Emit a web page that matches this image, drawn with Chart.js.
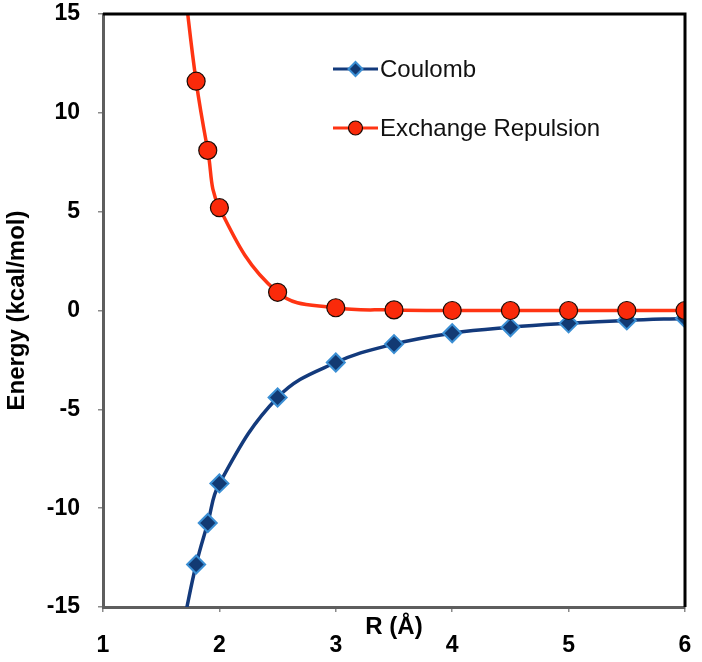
<!DOCTYPE html>
<html>
<head>
<meta charset="utf-8">
<script src="https://cdn.jsdelivr.net/npm/chart.js@4.4.1/dist/chart.umd.min.js"></script>
<style>
  html, body { margin: 0; padding: 0; background: #fff; }
  #wrap { width: 702px; height: 662px; }
</style>
</head>
<body>
<div id="wrap"><canvas id="energyChart" width="702" height="662"></canvas></div>
<script>
// R values (Å); the first one lies off the plotted range and only shapes the curve ends
const rValues = [1.7, 1.8, 1.9, 2.0, 2.5, 3.0, 3.5, 4.0, 4.5, 5.0, 5.5, 6.0];
const coulomb = [-15.6, -12.85, -10.75, -8.75, -4.4, -2.63, -1.7, -1.15, -0.85, -0.65, -0.5, -0.4];
const exchange = [16.4, 11.6, 8.1, 5.2, 0.92, 0.14, 0.03, 0.0, 0.0, 0.0, 0.0, 0.0];
const seriesNames = ['Coulomb', 'Exchange Repulsion'];

const Y_MIN = -15, Y_MAX = 15;
const FONT = '"Liberation Sans", Arial, sans-serif';

function toPoints(vals) {
  return rValues.map((r, i) => ({ x: r, y: vals[i] }));
}

// hide markers that fall outside the axis range (Excel does the same)
function markerRadius(r) {
  return ctx => (ctx.raw && (ctx.raw.y > Y_MAX || ctx.raw.y < Y_MIN)) ? 0 : r;
}

// legend drawn inside the plot, plus the black top/right frame
const insideLegend = {
  id: 'insideLegend',
  afterDatasetsDraw(chart) {
    const { ctx, chartArea: a } = chart;
    ctx.save();
    ctx.strokeStyle = '#000';
    ctx.lineWidth = 3;
    ctx.beginPath();
    ctx.moveTo(a.left, a.top);
    ctx.lineTo(a.right, a.top);
    ctx.lineTo(a.right, a.bottom);
    ctx.stroke();

    const rows = [
      { ds: chart.data.datasets[0], y: 69 },
      { ds: chart.data.datasets[1], y: 128 }
    ];
    rows.forEach(row => {
      const x0 = 333, x1 = 378, cx = (x0 + x1) / 2;
      ctx.strokeStyle = row.ds.borderColor;
      ctx.lineWidth = 3;
      ctx.beginPath();
      ctx.moveTo(x0, row.y);
      ctx.lineTo(x1, row.y);
      ctx.stroke();
      ctx.fillStyle = row.ds.pointBackgroundColor;
      ctx.strokeStyle = row.ds.pointBorderColor;
      ctx.lineWidth = row.ds.pointBorderWidth;
      ctx.beginPath();
      const r = row.ds.legendRadius;
      if (row.ds.pointStyle === 'circle') {
        ctx.arc(cx, row.y, r, 0, Math.PI * 2);
      } else {
        ctx.moveTo(cx, row.y - r);
        ctx.lineTo(cx + r, row.y);
        ctx.lineTo(cx, row.y + r);
        ctx.lineTo(cx - r, row.y);
        ctx.closePath();
      }
      ctx.fill();
      ctx.stroke();
      ctx.fillStyle = '#111';
      ctx.font = '24px ' + FONT;
      ctx.textAlign = 'left';
      ctx.textBaseline = 'middle';
      ctx.fillText(row.ds.label, 380, row.y + 1);
    });
    ctx.restore();
  }
};

new Chart(document.getElementById('energyChart'), {
  type: 'line',
  data: {
    datasets: [
      {
        label: seriesNames[0],
        data: toPoints(coulomb),
        borderColor: '#133a7c',
        borderWidth: 3.5,
        tension: 0.4,
        pointStyle: 'rectRot',
        pointRadius: markerRadius(9),
        pointBackgroundColor: '#123a73',
        pointBorderColor: '#3b8fd4',
        pointBorderWidth: 2,
        legendRadius: 7,
        order: 1
      },
      {
        label: seriesNames[1],
        data: toPoints(exchange),
        borderColor: '#ff3413',
        borderWidth: 3.5,
        tension: 0.4,
        pointStyle: 'circle',
        pointRadius: markerRadius(9),
        pointBackgroundColor: '#fa2a0a',
        pointBorderColor: '#1a0a05',
        pointBorderWidth: 1.2,
        legendRadius: 7,
        order: 0
      }
    ]
  },
  options: {
    responsive: false,
    animation: false,
    layout: { padding: { left: 0, top: 14, right: 17, bottom: 0 } },
    plugins: {
      legend: { display: false },
      tooltip: { enabled: false }
    },
    scales: {
      x: {
        type: 'linear',
        min: 1,
        max: 6,
        ticks: { stepSize: 1, color: '#000', padding: 20, font: { family: FONT, size: 23, weight: 'bold' } },
        grid: { drawOnChartArea: false, drawTicks: true, tickLength: 5, color: '#8a8a8a', lineWidth: 1.5 },
        border: { color: '#5e5e5e', width: 3 },
        title: { display: true, text: 'R (Å)', color: '#000', padding: { top: 0, bottom: 20 }, font: { family: FONT, size: 24, weight: 'bold' } },
        afterFit(scale) {
          scale.height = 55;
          scale.paddingLeft = 0;
          scale.paddingRight = 0;
        }
      },
      y: {
        min: Y_MIN,
        max: Y_MAX,
        ticks: { stepSize: 5, color: '#000', padding: 18, font: { family: FONT, size: 23, weight: 'bold' } },
        grid: { drawOnChartArea: false, drawTicks: true, tickLength: 5, color: '#8a8a8a', lineWidth: 1.5 },
        border: { color: '#5e5e5e', width: 3 },
        title: { display: true, text: 'Energy (kcal/mol)', color: '#000', padding: { top: 3, bottom: 0 }, font: { family: FONT, size: 24, weight: 'bold' } },
        afterFit(scale) {
          scale.width = 103;
          scale.paddingTop = 0;
          scale.paddingBottom = 0;
        }
      }
    }
  },
  plugins: [insideLegend]
});
</script>
</body>
</html>
